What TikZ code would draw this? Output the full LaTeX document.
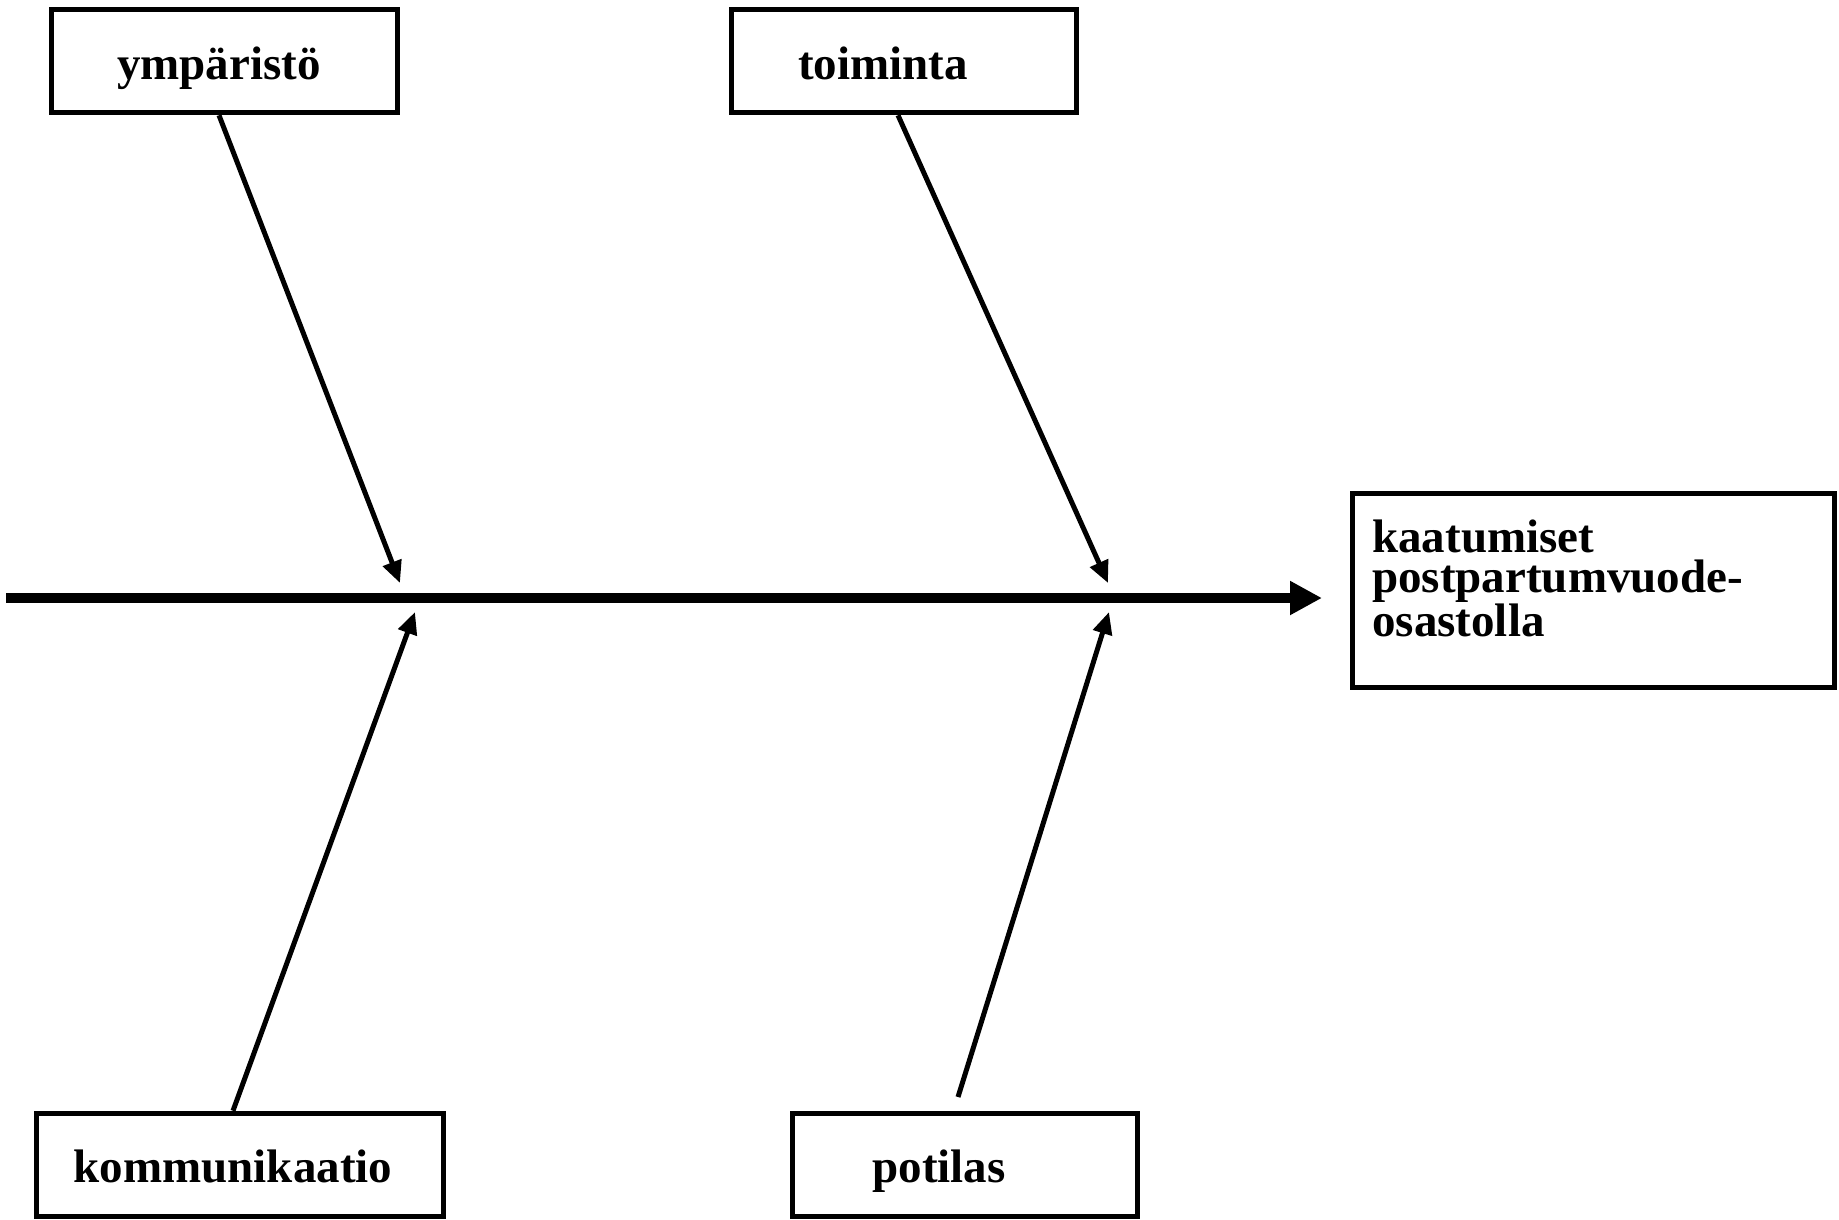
\documentclass[tikz,border=0pt]{standalone}
\usepackage{fontspec}
\setmainfont{Liberation Serif}
\usetikzlibrary{arrows.meta}
\begin{document}
\begin{tikzpicture}[x=1pt,y=-1pt,
  catbox/.style={draw,line width=5.5pt,rectangle,inner sep=0pt},
  lbl/.style={inner sep=0pt,anchor=base,font=\fontsize{47}{40}\selectfont\bfseries},
  bone/.style={line width=5pt,-{Triangle[length=22pt,width=19pt]}},
  spine/.style={line width=10pt,-{Triangle[length=32pt,width=32pt]}}]
\useasboundingbox (0,0) rectangle (1839,1220);

% category boxes
\node[catbox,minimum width=346pt,minimum height=103pt] (env) at (224.5,61) {};
\node[catbox,minimum width=345pt,minimum height=103pt] (act) at (904,61) {};
\node[catbox,minimum width=407pt,minimum height=103pt] (com) at (240,1165) {};
\node[catbox,minimum width=345pt,minimum height=103pt] (pat) at (965,1165) {};
\node[catbox,minimum width=482pt,minimum height=194pt] (eff) at (1593.5,590.5) {};

% labels
\node[lbl] (env-t) at (219,80) {ympäristö};
\node[lbl] (act-t) at (883,80) {toiminta};
\node[lbl] (com-t) at (233,1182) {kommunikaatio};
\node[lbl] (pat-t) at (939,1182) {potilas};
\node[inner sep=0pt,anchor=north west,text width=450pt,align=left,
      font=\fontsize{47}{40}\selectfont\bfseries] (eff-t) at (1372,520)
  {kaatumiset\\postpartumvuode-\\osastolla};

% spine
\coordinate (tail) at (6,598);
\coordinate (head) at (1322,598);
\draw[spine] (tail) -- (head);

% bones
\coordinate (e1) at (400,583);
\coordinate (e2) at (1108,583);
\coordinate (e3) at (415,612);
\coordinate (e4) at (1109,612);
\coordinate (s4) at (958,1097);
\draw[bone] (env.south -| env-t) -- (e1);
\draw[bone] ([xshift=-6pt]act.south) -- (e2);
\draw[bone] (com.north -| com-t) -- (e3);
\draw[bone] (s4) -- (e4);
\end{tikzpicture}
\end{document}
